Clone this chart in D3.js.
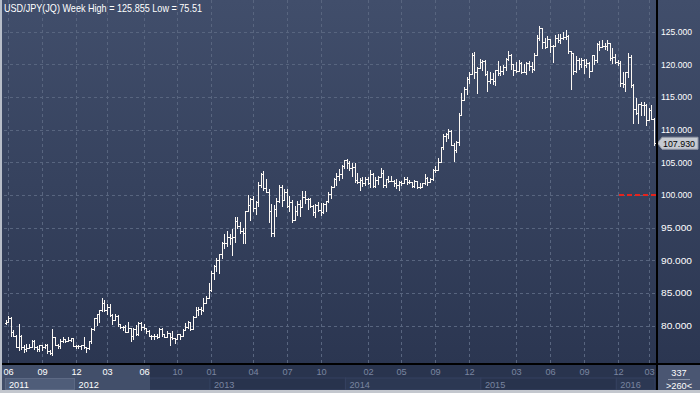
<!DOCTYPE html>
<html>
<head>
<meta charset="utf-8">
<script src="https://cdn.jsdelivr.net/npm/d3@7"></script>
<style>
  html, body { margin: 0; padding: 0; background: #2c3753; }
  svg { display: block; }
  text { font-family: "Liberation Sans", Arial, sans-serif; }
</style>
</head>
<body>
<div id="chart"></div>
<script>
// USD/JPY weekly bars, one entry per week, oldest first
const opens = [80.4,80.6,81.2,79.1,78.4,76.8,78.4,76.8,76.5,76.6, 76.8,77.6,76.8,76.5,77.0,76.7,77.0,76.2,75.8,78.2,
  77.0,76.9,77.7,77.9,77.6,77.8,78.1,76.9,76.9,76.9, 77.0,76.7,76.6,77.6,79.5,81.2,81.8,82.4,83.4,82.4,
  82.8,81.6,80.9,81.5,80.3,79.8,79.8,79.0,79.6,78.4, 79.5,78.7,80.4,79.8,79.6,79.2,78.5,78.5,78.4,78.3,
  79.5,78.7,78.3,78.9,78.3,78.1,77.9,78.7,78.4,79.3, 79.8,80.5,79.5,81.3,82.4,82.5,82.4,83.5,84.2,85.4,
  88.1,89.2,90.0,90.9,92.7,92.6,93.5,93.4,93.6,96.0, 95.3,94.5,94.2,97.5,98.4,99.4,98.0,99.0,101.6,103.2,
  101.0,100.5,97.5,94.2,97.9,99.1,101.2,99.2,100.4,98.3, 98.9,96.2,97.5,98.7,98.1,99.7,99.4,99.4,98.3,97.4,
  98.5,97.7,97.4,98.7,99.1,100.2,101.3,102.4,102.9,103.2, 104.4,105.3,104.9,104.1,104.3,102.3,102.0,102.3,101.8,102.5,
  101.8,103.2,101.4,102.3,102.8,103.3,101.6,102.4,102.2,102.2, 101.8,101.5,102.0,101.8,102.5,102.0,102.0,101.4,102.1,101.3,
  101.3,101.8,102.6,102.0,102.4,103.8,103.9,105.1,107.3,109.0, 109.3,109.8,107.7,106.9,108.1,112.3,114.6,116.3,117.7,118.6,
  121.4,118.8,119.4,120.4,120.5,118.5,117.5,117.7,117.5,119.1, 118.7,119.0,119.6,120.8,121.4,120.0,119.1,119.0,120.2,118.9,
  118.9,120.2,119.8,119.3,121.5,124.1,125.6,123.4,122.7,123.9, 122.8,122.8,124.0,123.8,124.1,124.2,124.3,122.0,121.7,119.0,
  120.6,120.0,120.6,119.9,120.2,119.0,121.5,120.6,123.1,122.6, 122.8,122.8,123.2,121.0,121.2,120.4,120.2,117.2,117.0,118.8,
  121.1,116.8,113.2,112.6,114.0,113.8,113.8,111.5,113.0,111.7];
const highs = [80.9,81.45,81.3,79.4,78.6,80.25,78.6,77.1,77.2,77.2, 77.8,77.8,76.9,77.1,77.0,77.2,77.2,76.3,79.55,78.3,
  77.2,78.0,78.2,78.0,78.2,78.1,78.1,77.0,77.0,77.0, 78.3,76.8,77.7,79.6,81.2,81.8,82.4,84.18,84.0,83.3,
  83.3,81.8,81.8,81.6,80.3,80.0,80.1,80.5,79.7,79.7, 80.1,80.5,80.6,80.2,79.7,79.4,78.6,78.7,78.8,79.6,
  79.6,78.8,79.2,78.9,79.2,78.1,78.7,78.7,79.5,80.4, 80.7,80.5,81.5,82.8,82.8,82.8,84.2,84.6,86.6,88.4,
  89.3,90.3,91.0,92.8,94.1,94.5,94.0,94.8,96.6,96.7, 95.9,94.9,97.6,99.95,99.5,99.9,99.1,101.98,103.3,103.7,
  102.5,100.9,98.7,98.4,99.5,101.5,101.5,100.9,100.9,99.9, 99.2,98.3,99.1,99.2,100.6,100.6,99.5,99.5,98.5,98.7,
  99.0,98.8,98.8,99.1,100.4,101.4,102.6,103.4,104.0,104.6, 105.4,105.44,105.2,104.9,104.9,103.4,102.6,102.8,102.7,102.7,
  103.8,103.4,102.7,102.9,104.1,103.8,102.5,102.9,102.9,102.3, 102.4,102.1,102.2,102.8,102.8,102.3,102.0,102.3,102.1,101.8,
  101.9,103.15,102.8,102.6,104.0,104.5,105.7,107.4,109.4,109.5, 110.1,109.9,107.9,108.3,112.5,115.6,116.5,118.0,118.9,121.7,
  121.85,119.6,120.8,120.6,120.7,119.0,118.9,118.7,119.2,120.5, 119.7,119.9,120.9,122.0,121.6,120.1,120.4,120.6,120.4,120.1,
  120.3,120.5,120.3,121.8,124.5,125.855,125.6,124.0,124.4,123.9, 122.9,124.5,124.6,124.6,125.0,125.3,124.5,122.0,121.8,121.3,
  121.0,121.0,120.8,120.8,120.3,121.5,121.5,123.2,123.6,123.8, 123.3,123.7,123.3,122.5,121.6,120.6,120.5,118.8,118.9,121.7,
  121.5,117.0,114.9,114.0,114.3,114.2,114.0,113.3,113.8,111.8];
const lows = [80.2,80.5,78.5,78.4,76.8,76.3,76.5,75.95,76.2,76.6, 76.8,76.5,76.1,76.1,76.3,76.6,75.8,75.6,75.51,77.0,
  76.6,76.6,77.5,77.5,77.6,77.7,76.9,76.6,76.6,76.5, 76.6,76.0,76.5,77.4,79.4,80.1,80.6,82.3,82.3,81.8,
  81.5,80.3,80.8,80.0,79.7,79.4,79.0,79.0,77.65,77.9, 78.6,78.6,79.3,79.5,78.9,78.5,77.9,77.9,78.1,78.3,
  78.5,78.2,78.2,77.1,77.9,77.4,77.9,78.0,78.4,79.3, 79.6,79.4,79.5,81.3,81.7,81.8,82.3,83.5,84.2,85.3,
  87.1,88.3,88.1,90.3,91.9,92.2,92.5,90.8,92.8,94.9, 94.2,92.6,92.6,97.5,96.2,97.6,97.1,98.3,101.3,100.7,
  100.4,95.8,93.8,93.7,96.8,99.0,98.3,99.2,98.2,97.6, 95.8,96.2,97.0,96.8,98.1,98.8,97.8,98.2,96.9,96.6,
  97.6,96.9,97.2,97.6,98.9,99.6,101.2,101.6,102.3,102.6, 104.1,104.1,103.8,102.9,102.0,101.8,100.76,101.4,101.6,101.7,
  101.2,101.2,101.3,101.7,102.8,101.3,101.3,102.0,102.1,101.4, 101.1,100.8,101.5,101.8,101.7,101.8,101.3,101.2,101.1,101.1,
  101.2,101.7,101.5,102.0,102.3,103.5,103.8,105.1,107.0,108.3, 108.7,107.6,105.2,106.6,107.7,112.3,114.6,115.5,117.2,118.6,
  117.9,115.6,119.4,119.2,118.3,115.85,117.2,117.0,116.9,118.3, 118.3,118.6,119.2,120.6,119.3,118.3,118.8,119.0,118.7,118.8,
  118.5,119.2,118.9,119.2,121.4,123.7,122.5,122.5,122.7,121.9, 120.4,122.8,123.5,123.3,123.9,123.9,121.7,116.2,118.6,118.9,
  119.3,119.6,118.7,119.6,118.1,119.0,120.1,120.3,122.2,122.6, 122.3,122.2,120.6,120.2,120.2,119.9,116.7,116.5,115.98,118.0,
  116.5,111.0,112.4,111.0,112.2,112.3,110.7,111.5,111.6,107.67];
const closes = [80.6,81.2,79.1,78.4,76.8,78.4,76.8,76.5,76.6,76.8, 77.6,76.8,76.5,77.0,76.7,77.0,76.2,75.8,78.2,77.0,
  76.9,77.7,77.9,77.6,77.8,78.1,76.9,76.9,76.9,77.0, 76.7,76.6,77.6,79.5,81.2,81.8,82.4,83.4,82.4,82.8,
  81.6,80.9,81.5,80.3,79.8,79.8,79.0,79.6,78.4,79.5, 78.7,80.4,79.8,79.6,79.2,78.5,78.5,78.4,78.3,79.5,
  78.7,78.3,78.9,78.3,78.1,77.9,78.7,78.4,79.3,79.8, 80.5,79.5,81.3,82.4,82.5,82.4,83.5,84.2,85.4,88.1,
  89.2,90.0,90.9,92.7,92.6,93.5,93.4,93.6,96.0,95.3, 94.5,94.2,97.5,98.4,99.4,98.0,99.0,101.6,103.2,101.0,
  100.5,97.5,94.2,97.9,99.1,101.2,99.2,100.4,98.3,98.9, 96.2,97.5,98.7,98.1,99.7,99.4,99.4,98.3,97.4,98.5,
  97.7,97.4,98.7,99.1,100.2,101.3,102.4,102.9,103.2,104.4, 105.3,104.9,104.1,104.3,102.3,102.0,102.3,101.8,102.5,101.8,
  103.2,101.4,102.3,102.8,103.3,101.6,102.4,102.2,102.2,101.8, 101.5,102.0,101.8,102.5,102.0,102.0,101.4,102.1,101.3,101.3,
  101.8,102.6,102.0,102.4,103.8,103.9,105.1,107.3,109.0,109.3, 109.8,107.7,106.9,108.1,112.3,114.6,116.3,117.7,118.6,121.4,
  118.8,119.4,120.4,120.5,118.5,117.5,117.7,117.5,119.1,118.7, 119.0,119.6,120.8,121.4,120.0,119.1,119.0,120.2,118.9,118.9,
  120.2,119.8,119.3,121.5,124.1,125.6,123.4,122.7,123.9,122.8, 122.8,124.0,123.8,124.1,124.2,124.3,122.0,121.7,119.0,120.6,
  120.0,120.6,119.9,120.2,119.0,121.5,120.6,123.1,122.6,122.8, 122.8,123.2,121.0,121.2,120.4,120.2,117.2,117.0,118.8,121.1,
  116.8,113.2,112.6,114.0,113.8,113.8,111.5,113.0,111.7,107.93];

const priceTicks = [80, 85, 90, 95, 100, 105, 110, 115, 120, 125];
const monthLabels = ["06","09","12","03","06","10","01","04","07","10","02","05","09","12","03","06","09","12","03"];
const monthBars = [1, 14, 27, 39, 53, 66, 79, 95, 108, 121, 139, 152, 165, 178, 196, 209, 222, 235, 247];
const yearLabels = ["2011", "2012", "2013", "2014", "2015", "2016"];
const yearBars = [0, 27, 79, 131, 183, 235];   // first bar of each year
const lastPrice = 107.930;
const refLevel = 100;
const title = "USD/JPY(JQ) Week  High = 125.855 Low = 75.51";

const W = 700, H = 393;
const plotRight = 656, axisY = 364;
const litEnd = 150;   // end of the highlighted part of the date strip

const svg = d3.select("#chart").append("svg")
  .attr("width", W).attr("height", H);

const defs = svg.append("defs");
const grad = defs.append("linearGradient")
  .attr("id", "bg").attr("x1", 0).attr("y1", 0).attr("x2", 0).attr("y2", 1);
grad.append("stop").attr("offset", "0%").attr("stop-color", "#414e6b");
grad.append("stop").attr("offset", "100%").attr("stop-color", "#2b3651");

svg.append("rect").attr("x", 0).attr("y", 0).attr("width", W).attr("height", axisY)
  .attr("fill", "url(#bg)");

const x = d3.scaleLinear().domain([0, opens.length - 1]).range([5.5, 654.1]);
const y = d3.scaleLinear().domain([80, 125]).range([325.7, 31.7]);
const px = i => Math.round(x(i));
const py = v => Math.round(y(v));

// grid
svg.append("g").selectAll("line").data(priceTicks).join("line")
  .attr("x1", 4).attr("x2", plotRight)
  .attr("y1", d => py(d) + 0.5).attr("y2", d => py(d) + 0.5)
  .attr("stroke", "#58657f").attr("stroke-dasharray", "3,3");
svg.append("g").selectAll("line").data(monthBars).join("line")
  .attr("x1", d => px(d) + 0.5).attr("x2", d => px(d) + 0.5)
  .attr("y1", 0).attr("y2", axisY)
  .attr("stroke", "#58657f").attr("stroke-dasharray", "3,3");

// reference line
svg.append("line")
  .attr("x1", 619).attr("x2", plotRight)
  .attr("y1", py(refLevel)).attr("y2", py(refLevel))
  .attr("stroke", "#e5231d").attr("stroke-width", 2).attr("stroke-dasharray", "5,3");

// OHLC bars
const bars = svg.append("g").attr("fill", "#fdf9f4").attr("shape-rendering", "crispEdges");
opens.forEach((o, i) => {
  const xi = px(i);
  const yh = py(highs[i]), yl = py(lows[i]);
  bars.append("rect").attr("x", xi).attr("y", yh).attr("width", 1).attr("height", Math.max(1, yl - yh + 1));
  bars.append("rect").attr("x", xi - 1).attr("y", py(o)).attr("width", 1).attr("height", 1);
  bars.append("rect").attr("x", xi + 1).attr("y", py(closes[i])).attr("width", 1).attr("height", 1);
});

// title
svg.append("text").attr("x", 4).attr("y", 12)
  .attr("fill", "#ffffff").attr("font-size", 10.8)
  .attr("textLength", 198).attr("lengthAdjust", "spacingAndGlyphs")
  .text(title);

// right axis
svg.append("g").selectAll("text").data(priceTicks).join("text")
  .attr("x", 661).attr("y", d => y(d) + 3.4)
  .attr("fill", "#ffffff").attr("font-size", 9.2)
  .attr("textLength", 31).attr("lengthAdjust", "spacingAndGlyphs")
  .text(d => d3.format(".3f")(d));

// last price flag
const ly = y(lastPrice);
svg.append("path")
  .attr("d", `M657.5,${ly}L662,${ly - 6}H698V${ly + 6}H662Z`)
  .attr("fill", "#c6cad1").attr("stroke", "#9298a6");
svg.append("text").attr("x", 663).attr("y", ly + 3.4)
  .attr("fill", "#000000").attr("font-size", 9.2)
  .attr("textLength", 32).attr("lengthAdjust", "spacingAndGlyphs")
  .text(d3.format(".3f")(lastPrice));

// date strip
const strip = svg.append("g");
strip.append("rect").attr("x", 0).attr("y", axisY).attr("width", W).attr("height", H - axisY)
  .attr("fill", "#27324b");
strip.append("rect").attr("x", 0).attr("y", axisY).attr("width", plotRight).attr("height", 14)
  .attr("fill", "#29344e");
strip.append("rect").attr("x", 2).attr("y", 378).attr("width", plotRight - 2).attr("height", 12)
  .attr("fill", "#222c44");
const yearEnds = yearBars.slice(1).map(b => x(b - 0.5)).concat([plotRight - 1]);
yearBars.forEach((b, k) => {
  const x0 = k === 0 ? 5 : x(b - 0.5);
  strip.append("rect").attr("x", x0).attr("y", 378).attr("width", yearEnds[k] - x0).attr("height", 12)
    .attr("fill", k % 2 ? "#2c3853" : "#28334d").attr("stroke", "#354160");
});
strip.append("rect").attr("x", 2).attr("y", axisY).attr("width", litEnd - 2).attr("height", 26)
  .attr("fill", "#44516d").attr("fill-opacity", 0.92);
strip.append("rect").attr("x", 5.5).attr("y", 378.5).attr("width", x(yearBars[1] - 0.5) - 5.5).attr("height", 11)
  .attr("fill", "#4f5d79").attr("stroke", "#5d6a85");
strip.selectAll("text.m").data(monthLabels).join("text")
  .attr("x", (d, k) => px(monthBars[k]) + 0.5).attr("y", 375)
  .attr("text-anchor", "middle").attr("font-size", 9.2)
  .attr("fill", (d, k) => px(monthBars[k]) < litEnd ? "#ffffff" : "#7985a0")
  .text(d => d);
strip.selectAll("text.yr").data(yearLabels).join("text")
  .attr("x", (d, k) => (k === 0 ? 5 : x(yearBars[k] - 0.5)) + 4).attr("y", 388)
  .attr("font-size", 9.2)
  .attr("fill", (d, k) => (k === 0 ? 5 : x(yearBars[k] - 0.5)) < litEnd ? "#ffffff" : "#7985a0")
  .text(d => d);

// corner box
svg.append("rect").attr("x", 658).attr("y", 365).attr("width", 42).attr("height", 25).attr("fill", "#4a5672");
svg.append("text").attr("x", 679).attr("y", 375.5).attr("text-anchor", "middle")
  .attr("fill", "#ffffff").attr("font-size", 9.2).text("337");
svg.append("line").attr("x1", 668).attr("x2", 690).attr("y1", 379.5).attr("y2", 379.5).attr("stroke", "#8c95a8");
svg.append("text").attr("x", 679).attr("y", 389).attr("text-anchor", "middle")
  .attr("fill", "#ffffff").attr("font-size", 9.2).text(">260<");

// frame lines
svg.append("rect").attr("x", 0).attr("y", axisY - 1).attr("width", W).attr("height", 2).attr("fill", "#000000");
svg.append("rect").attr("x", plotRight).attr("y", 0).attr("width", 2).attr("height", H - 3).attr("fill", "#000000");
svg.append("rect").attr("x", 0).attr("y", 0).attr("width", 2).attr("height", H).attr("fill", "#b8bec9");
svg.append("rect").attr("x", 0).attr("y", H - 3).attr("width", W).attr("height", 3).attr("fill", "#c3c7ce");
</script>
</body>
</html>
